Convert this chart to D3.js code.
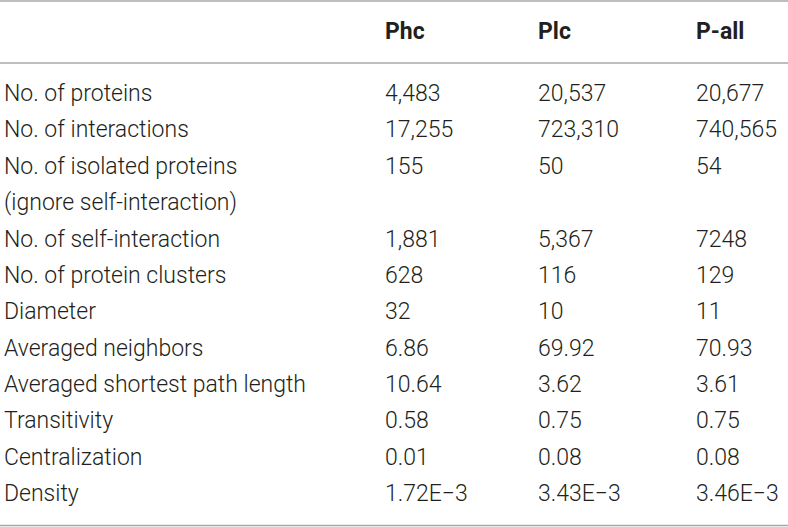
<!DOCTYPE html>
<html><head><meta charset="utf-8">
<script src="https://cdn.jsdelivr.net/npm/d3@7"></script>
<style>html,body{margin:0;padding:0;background:#fff;}</style>
</head><body>
<svg id="t" width="788" height="527"></svg>
<script>
const columns = ["Phc", "Plc", "P-all"];
const rowLabels = ["No. of proteins", "No. of interactions", "No. of isolated proteins", "(ignore self-interaction)",
  "No. of self-interaction", "No. of protein clusters", "Diameter", "Averaged neighbors",
  "Averaged shortest path length", "Transitivity", "Centralization", "Density"];
const phc  = ["4,483", "17,255", "155", "", "1,881", "628", "32", "6.86", "10.64", "0.58", "0.01", "1.72E\u22123"];
const plc  = ["20,537", "723,310", "50", "", "5,367", "116", "10", "69.92", "3.62", "0.75", "0.08", "3.43E\u22123"];
const pall = ["20,677", "740,565", "54", "", "7248", "129", "11", "70.93", "3.61", "0.75", "0.08", "3.46E\u22123"];

const W = 788, H = 527;
const svg = d3.select("#t");
const font = "Roboto, 'Liberation Sans', sans-serif";
const txt = "#231f20";

const x = d3.scaleOrdinal().domain(["label"].concat(columns)).range([4, 385, 538, 696]);
const y = d3.scaleLinear().domain([0, rowLabels.length - 1]).range([93, 493]);

// rules
const rule = "#a8a8a8";
[1, 63, 525.5].forEach(yy => {
  svg.append("line").attr("x1", 0).attr("x2", W).attr("y1", yy).attr("y2", yy)
    .attr("stroke", rule).attr("stroke-width", 1.6);
});

// header
svg.selectAll("text.h").data(columns).join("text").attr("class", "h")
  .attr("x", d => x(d)).attr("y", 31).attr("dy", "0.35em")
  .attr("font-family", font).attr("font-weight", 700).attr("font-size", 23)
  .attr("fill", txt).text(d => d);

const rows = rowLabels.map((l, i) => ({i, cells: [["label", l], ["Phc", phc[i]], ["Plc", plc[i]], ["P-all", pall[i]]]}));
const g = svg.selectAll("g.r").data(rows).join("g").attr("class", "r");
g.selectAll("text").data(d => d.cells.map(c => ({i: d.i, col: c[0], v: c[1]}))).join("text")
  .attr("x", d => x(d.col)).attr("y", d => y(d.i)).attr("dy", "0.35em")
  .attr("font-family", font).attr("font-weight", 300).attr("font-size", 23)
  .attr("fill", txt).text(d => d.v);
</script>
</body></html>
